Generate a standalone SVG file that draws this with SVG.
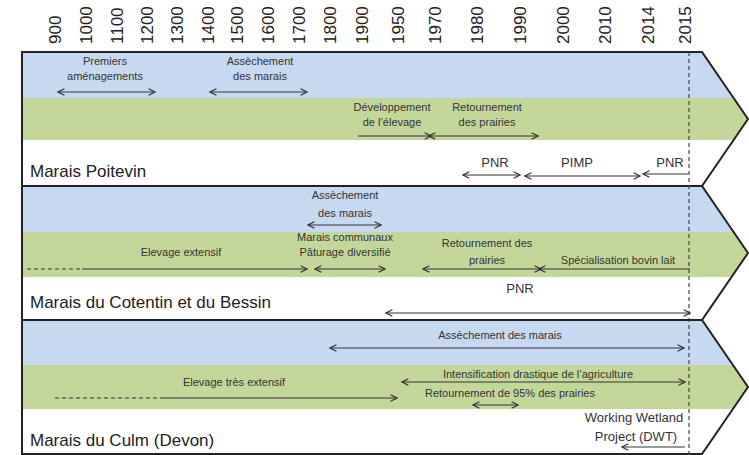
<svg xmlns="http://www.w3.org/2000/svg" width="749" height="455" viewBox="0 0 749 455">
<style>
.yr{font-family:"Liberation Sans",Arial,sans-serif;font-size:17px;fill:#222}
.t{font-family:"Liberation Sans",Arial,sans-serif;font-size:11px;fill:#333;text-anchor:middle}
.tl{font-family:"Liberation Sans",Arial,sans-serif;font-size:13px;fill:#333;text-anchor:middle}
.name{font-family:"Liberation Sans",Arial,sans-serif;font-size:17px;fill:#222}
.blue{fill:#c6d9f0}
.green{fill:#c4d79b}
.white{fill:#ffffff}
.outline{fill:none;stroke:#222;stroke-width:2}
.a{stroke:#333;stroke-width:1.2;fill:none}
.ab{stroke:#333;stroke-width:1.2;fill:none;marker-start:url(#ah);marker-end:url(#ah)}
.ae{stroke:#333;stroke-width:1.2;fill:none;marker-end:url(#ah)}
.as{stroke:#333;stroke-width:1.2;fill:none;marker-start:url(#ah)}
.dash{stroke:#333;stroke-width:1.2;fill:none;stroke-dasharray:4 3}
</style>
<defs>
<marker id="ah" viewBox="0 0 10 10" refX="9" refY="5" markerWidth="8" markerHeight="8" markerUnits="userSpaceOnUse" orient="auto-start-reverse">
<path d="M1,1 L9,5 L1,9" fill="none" stroke="#333" stroke-width="1.5"/>
</marker>
<clipPath id="c1"><polygon points="22,52 702,52 748,119 702,186 22,186"/></clipPath>
<clipPath id="c2"><polygon points="22,186 702,186 748,253 702,320 22,320"/></clipPath>
<clipPath id="c3"><polygon points="22,320 702,320 748,387 702,454 22,454"/></clipPath>
</defs>
<rect width="749" height="455" fill="#fff"/>

<g id="axis">
<text class="yr" transform="translate(61,44) rotate(-90)">900</text>
<text class="yr" transform="translate(92,44) rotate(-90)">1000</text>
<text class="yr" transform="translate(123,44) rotate(-90)">1100</text>
<text class="yr" transform="translate(153,44) rotate(-90)">1200</text>
<text class="yr" transform="translate(183,44) rotate(-90)">1300</text>
<text class="yr" transform="translate(214,44) rotate(-90)">1400</text>
<text class="yr" transform="translate(243,44) rotate(-90)">1500</text>
<text class="yr" transform="translate(274,44) rotate(-90)">1600</text>
<text class="yr" transform="translate(305,44) rotate(-90)">1700</text>
<text class="yr" transform="translate(336,44) rotate(-90)">1800</text>
<text class="yr" transform="translate(368,44) rotate(-90)">1900</text>
<text class="yr" transform="translate(404,44) rotate(-90)">1950</text>
<text class="yr" transform="translate(441,44) rotate(-90)">1970</text>
<text class="yr" transform="translate(483,44) rotate(-90)">1980</text>
<text class="yr" transform="translate(526,44) rotate(-90)">1990</text>
<text class="yr" transform="translate(569,44) rotate(-90)">2000</text>
<text class="yr" transform="translate(611,44) rotate(-90)">2010</text>
<text class="yr" transform="translate(654,44) rotate(-90)">2014</text>
<text class="yr" transform="translate(691,44) rotate(-90)">2015</text>
</g>

<g id="band-poitevin">
<g clip-path="url(#c1)">
<rect class="blue" x="22" y="52" width="727" height="46"/>
<rect class="green" x="22" y="98" width="727" height="42"/>
<rect class="white" x="22" y="140" width="727" height="46"/>
</g>
<polygon class="outline" points="22,52 702,52 748,119 702,186 22,186"/>
<text class="name" x="30" y="177">Marais Poitevin</text>
<text class="t" x="105" y="65">Premiers</text>
<text class="t" x="105" y="80">aménagements</text>
<text class="t" x="260" y="65">Assèchement</text>
<text class="t" x="260" y="80">des marais</text>
<text class="t" x="392" y="111">Développement</text>
<text class="t" x="392" y="126">de l’élevage</text>
<text class="t" x="487" y="111">Retournement</text>
<text class="t" x="487" y="126">des prairies</text>
<text class="tl" x="495" y="167">PNR</text>
<text class="tl" x="577" y="167">PIMP</text>
<text class="tl" x="670" y="167">PNR</text>
</g>

<g id="band-cotentin">
<g clip-path="url(#c2)">
<rect class="blue" x="22" y="186" width="727" height="46"/>
<rect class="green" x="22" y="232" width="727" height="45"/>
<rect class="white" x="22" y="277" width="727" height="43"/>
</g>
<polygon class="outline" points="22,186 702,186 748,253 702,320 22,320"/>
<text class="name" x="30" y="308">Marais du Cotentin et du Bessin</text>
<text class="t" x="345" y="199">Assèchement</text>
<text class="t" x="345" y="217">des marais</text>
<text class="t" x="345" y="241">Marais communaux</text>
<text class="t" x="345" y="256">Pâturage diversifié</text>
<text class="t" x="181" y="256">Elevage extensif</text>
<text class="t" x="487" y="247">Retournement des</text>
<text class="t" x="487" y="264">prairies</text>
<text class="t" x="618" y="264">Spécialisation bovin lait</text>
<text class="tl" x="520" y="293">PNR</text>
</g>

<g id="band-culm">
<g clip-path="url(#c3)">
<rect class="blue" x="22" y="320" width="727" height="45"/>
<rect class="green" x="22" y="365" width="727" height="44"/>
<rect class="white" x="22" y="409" width="727" height="46"/>
</g>
<polygon class="outline" points="22,320 702,320 748,387 702,454 22,454"/>
<text class="name" x="30" y="446">Marais du Culm (Devon)</text>
<text class="t" x="500" y="339">Assèchement des marais</text>
<text class="t" x="538" y="378">Intensification drastique de l’agriculture</text>
<text class="t" x="234" y="386">Elevage très extensif</text>
<text class="t" x="510" y="397">Retournement de 95% des prairies</text>
<text class="tl" x="634" y="422">Working Wetland</text>
<text class="tl" x="636" y="441">Project (DWT)</text>
</g>

<g id="connectors">
<line x1="689" y1="52" x2="689" y2="455" stroke="#444" stroke-width="1.2" stroke-dasharray="4 3"/>
<!-- band 1 -->
<line class="ab" x1="58" y1="92" x2="155" y2="92"/>
<line class="ab" x1="210" y1="92" x2="307" y2="92"/>
<line class="ae" x1="358" y1="136" x2="431" y2="136"/>
<line class="ab" x1="429" y1="136" x2="538" y2="136"/>
<line class="ab" x1="463" y1="175" x2="520" y2="175"/>
<line class="ab" x1="525" y1="176" x2="640" y2="176"/>
<line class="as" x1="643" y1="174" x2="688" y2="174"/>
<!-- band 2 -->
<line class="ab" x1="308" y1="225" x2="381" y2="225"/>
<line class="dash" x1="27" y1="269" x2="82" y2="269"/>
<line class="ae" x1="82" y1="269" x2="307" y2="269"/>
<line class="ab" x1="315" y1="269" x2="385" y2="269"/>
<line class="ab" x1="423" y1="269" x2="541" y2="269"/>
<line class="as" x1="539" y1="269" x2="690" y2="269"/>
<line class="ab" x1="386" y1="313" x2="690" y2="313"/>
<!-- band 3 -->
<line class="ab" x1="330" y1="348" x2="684" y2="348"/>
<line class="ab" x1="402" y1="382" x2="685" y2="382"/>
<line class="dash" x1="55" y1="398" x2="160" y2="398"/>
<line class="ae" x1="160" y1="398" x2="397" y2="398"/>
<line class="ab" x1="473" y1="405" x2="518" y2="405"/>
<line class="as" x1="622" y1="447" x2="685" y2="447"/>
</g>
</svg>
